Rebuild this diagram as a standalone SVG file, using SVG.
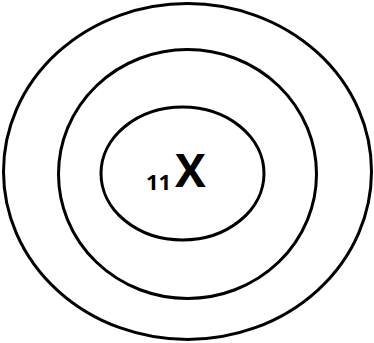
<svg xmlns="http://www.w3.org/2000/svg" width="374" height="343" viewBox="0 0 374 343">
<style>
.ring{fill:none;stroke:#000;stroke-width:3}
.t{font-family:"Open Sans","Liberation Sans",sans-serif;font-weight:bold;fill:#000}
</style>
<rect width="374" height="343" fill="#fff"/>
<g id="outer"><ellipse class="ring" cx="187.5" cy="171.5" rx="184" ry="168"/></g>
<g id="middle"><ellipse class="ring" cx="187.5" cy="174" rx="129" ry="124.5"/></g>
<g id="inner"><ellipse class="ring" cx="182.5" cy="173.5" rx="81.5" ry="66.5"/>
<text class="t" x="146" y="190" font-size="22">11</text>
<text class="t" x="175" y="187" font-size="46">X</text>
</g>
<g id="connectors"/>
</svg>
